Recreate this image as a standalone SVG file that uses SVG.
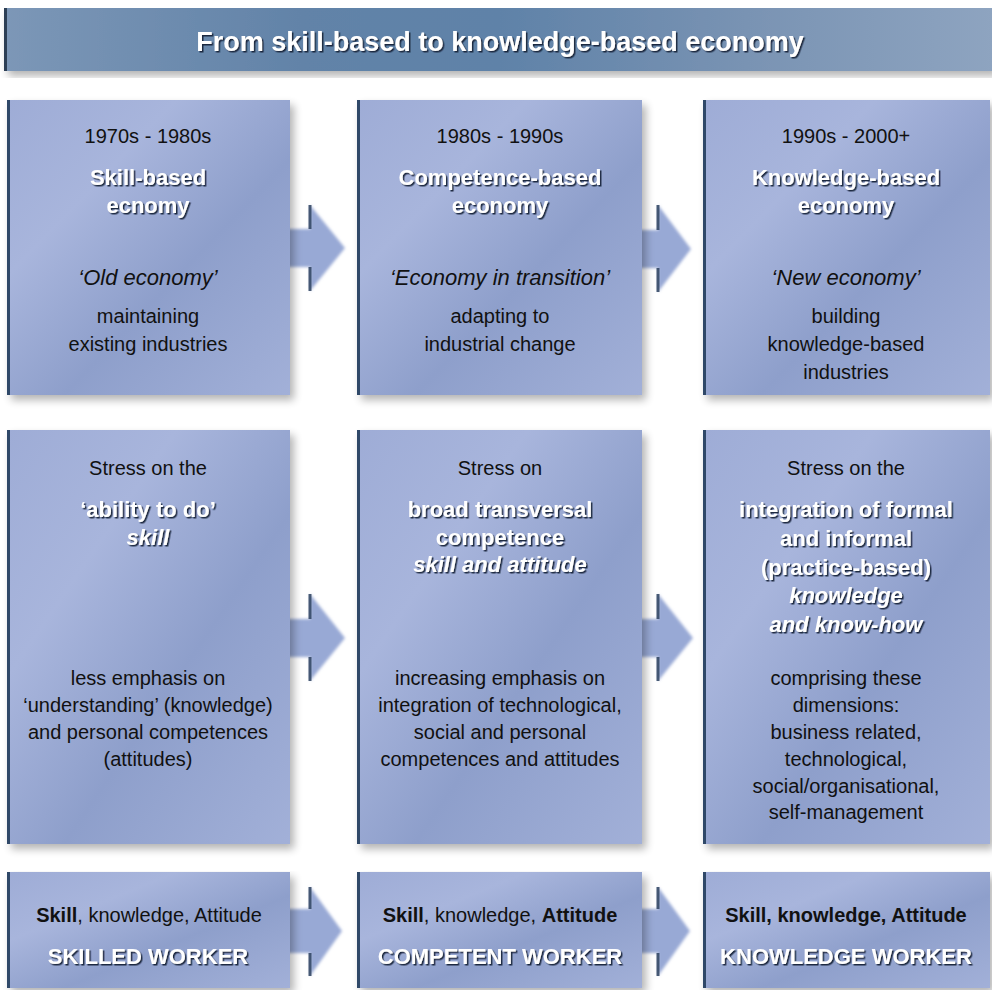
<svg xmlns="http://www.w3.org/2000/svg" width="992" height="990" viewBox="0 0 992 990">
<defs>
<linearGradient id="boxg" x1="0" y1="0" x2="1" y2="1">
<stop offset="0" stop-color="#9eacd6"/>
<stop offset="0.3" stop-color="#a8b5dc"/>
<stop offset="0.6" stop-color="#8e9fcb"/>
<stop offset="1" stop-color="#a2b0d8"/>
</linearGradient>
<linearGradient id="titleg" x1="0" y1="0" x2="1" y2="0">
<stop offset="0" stop-color="#7c97b7"/>
<stop offset="0.3" stop-color="#6283a8"/>
<stop offset="0.5" stop-color="#5f82a8"/>
<stop offset="0.75" stop-color="#7993b3"/>
<stop offset="1" stop-color="#8ea4c0"/>
</linearGradient>
<filter id="shadow" x="-5%" y="-5%" width="115%" height="115%">
<feGaussianBlur in="SourceAlpha" stdDeviation="4"/>
<feOffset dx="4" dy="5" result="b"/>
<feComponentTransfer><feFuncA type="linear" slope="0.3"/></feComponentTransfer>
<feMerge><feMergeNode/><feMergeNode in="SourceGraphic"/></feMerge>
</filter>
<filter id="ts" x="-5%" y="-20%" width="110%" height="140%">
<feDropShadow dx="1.5" dy="1.5" stdDeviation="0.4" flood-color="#15233a" flood-opacity="0.95"/>
</filter>
<filter id="soft" x="-20%" y="-20%" width="140%" height="140%">
<feGaussianBlur stdDeviation="1.5"/>
</filter>
</defs>
<style>
.box{fill:url(#boxg);filter:url(#shadow)}
.edge{stroke:#2f4868;stroke-width:3;fill:none}
.t{font-family:"Liberation Sans",Arial,sans-serif;text-anchor:middle;fill:#111}
.r{font-size:20px}
.w{font-size:22px;font-weight:bold;fill:#fff;filter:url(#ts)}
.i{font-size:22px;font-style:italic}
.b{font-weight:bold}
.arrow{fill:#98a9d5;filter:url(#soft)}
.ah{stroke:#2a3f5e;stroke-width:3;fill:none;opacity:0.85}
</style>
<rect width="992" height="990" fill="#ffffff"/>

<g id="title">
<rect x="4" y="8" width="990" height="63" fill="url(#titleg)" filter="url(#shadow)"/>
<line x1="5.5" y1="8" x2="5.5" y2="71" stroke="#2d3f55" stroke-width="3"/>
<text class="t w" x="500" y="51" style="font-size:27px">From skill-based to knowledge-based economy</text>
</g>

<g id="connectors">
<g id="arrow-r1-c1"><polygon class="arrow" points="286,229 310,229 310,205 345,248 310,291 310,267 286,267"/><path class="ah" d="M310,205 V229 M310,267 V291"/></g>
<g id="arrow-r1-c2"><polygon class="arrow" points="638,230 658,230 658,205 691,249 658,292 658,268 638,268"/><path class="ah" d="M658,205 V230 M658,268 V292"/></g>
<g id="arrow-r2-c1"><polygon class="arrow" points="286,619 310,619 310,594 345,638 310,681 310,657 286,657"/><path class="ah" d="M310,594 V619 M310,657 V681"/></g>
<g id="arrow-r2-c2"><polygon class="arrow" points="638,619 658,619 658,594 693,638 658,681 658,657 638,657"/><path class="ah" d="M658,594 V619 M658,657 V681"/></g>
<g id="arrow-r3-c1"><polygon class="arrow" points="286,909 310,909 310,887 342,931 310,976 310,953 286,953"/><path class="ah" d="M310,887 V909 M310,953 V976"/></g>
<g id="arrow-r3-c2"><polygon class="arrow" points="638,909 658,909 658,887 690,931 658,976 658,953 638,953"/><path class="ah" d="M658,887 V909 M658,953 V976"/></g>
</g>

<g id="box-r1-c1">
<rect class="box" x="7" y="100" width="283" height="295"/>
<path class="edge" d="M8.5,100 V395"/>
<text class="t r" x="148" y="143">1970s - 1980s</text>
<text class="t w" x="148" y="185">Skill-based</text>
<text class="t w" x="148" y="213">ecnomy</text>
<text class="t i" x="148" y="285">‘Old economy’</text>
<text class="t r" x="148" y="323">maintaining</text>
<text class="t r" x="148" y="351">existing industries</text>
</g>

<g id="box-r1-c2">
<rect class="box" x="357" y="100" width="285" height="295"/>
<path class="edge" d="M358.5,100 V395"/>
<text class="t r" x="500" y="143">1980s - 1990s</text>
<text class="t w" x="500" y="185">Competence-based</text>
<text class="t w" x="500" y="213">economy</text>
<text class="t i" x="500" y="285">‘Economy in transition’</text>
<text class="t r" x="500" y="323">adapting to</text>
<text class="t r" x="500" y="351">industrial change</text>
</g>

<g id="box-r1-c3">
<rect class="box" x="703" y="100" width="287" height="295"/>
<path class="edge" d="M704.5,100 V395"/>
<text class="t r" x="846" y="143">1990s - 2000+</text>
<text class="t w" x="846" y="185">Knowledge-based</text>
<text class="t w" x="846" y="213">economy</text>
<text class="t i" x="846" y="285">‘New economy’</text>
<text class="t r" x="846" y="323">building</text>
<text class="t r" x="846" y="351">knowledge-based</text>
<text class="t r" x="846" y="379">industries</text>
</g>

<g id="box-r2-c1">
<rect class="box" x="7" y="430" width="283" height="414"/>
<path class="edge" d="M8.5,430 V844"/>
<text class="t r" x="148" y="475">Stress on the</text>
<text class="t w" x="148" y="517">‘ability to do’</text>
<text class="t w" x="148" y="545" font-style="italic">skill</text>
<text class="t r" x="148" y="685">less emphasis on</text>
<text class="t r" x="148" y="712">‘understanding’ (knowledge)</text>
<text class="t r" x="148" y="739">and personal competences</text>
<text class="t r" x="148" y="766">(attitudes)</text>
</g>

<g id="box-r2-c2">
<rect class="box" x="357" y="430" width="285" height="414"/>
<path class="edge" d="M358.5,430 V844"/>
<text class="t r" x="500" y="475">Stress on</text>
<text class="t w" x="500" y="517">broad transversal</text>
<text class="t w" x="500" y="545">competence</text>
<text class="t w" x="500" y="572" font-style="italic">skill and attitude</text>
<text class="t r" x="500" y="685">increasing emphasis on</text>
<text class="t r" x="500" y="712">integration of technological,</text>
<text class="t r" x="500" y="739">social and personal</text>
<text class="t r" x="500" y="766">competences and attitudes</text>
</g>

<g id="box-r2-c3">
<rect class="box" x="703" y="430" width="287" height="414"/>
<path class="edge" d="M704.5,430 V844"/>
<text class="t r" x="846" y="475">Stress on the</text>
<text class="t w" x="846" y="517">integration of formal</text>
<text class="t w" x="846" y="546">and informal</text>
<text class="t w" x="846" y="575">(practice-based)</text>
<text class="t w" x="846" y="603" font-style="italic">knowledge</text>
<text class="t w" x="846" y="632" font-style="italic">and know-how</text>
<text class="t r" x="846" y="685">comprising these</text>
<text class="t r" x="846" y="712">dimensions:</text>
<text class="t r" x="846" y="739">business related,</text>
<text class="t r" x="846" y="766">technological,</text>
<text class="t r" x="846" y="793">social/organisational,</text>
<text class="t r" x="846" y="819">self-management</text>
</g>

<g id="box-r3-c1">
<rect class="box" x="7" y="872" width="283" height="116"/>
<path class="edge" d="M8.5,872 V988"/>
<text class="t r" x="149" y="922"><tspan class="b">Skill</tspan>, knowledge, Attitude</text>
<text class="t w" x="148" y="964">SKILLED WORKER</text>
</g>

<g id="box-r3-c2">
<rect class="box" x="357" y="872" width="285" height="116"/>
<path class="edge" d="M358.5,872 V988"/>
<text class="t r" x="500" y="922"><tspan class="b">Skill</tspan>, knowledge, <tspan class="b">Attitude</tspan></text>
<text class="t w" x="500" y="964">COMPETENT WORKER</text>
</g>

<g id="box-r3-c3">
<rect class="box" x="703" y="872" width="287" height="116"/>
<path class="edge" d="M704.5,872 V988"/>
<text class="t r b" x="846" y="922">Skill, knowledge, Attitude</text>
<text class="t w" x="846" y="964">KNOWLEDGE WORKER</text>
</g>
</svg>
